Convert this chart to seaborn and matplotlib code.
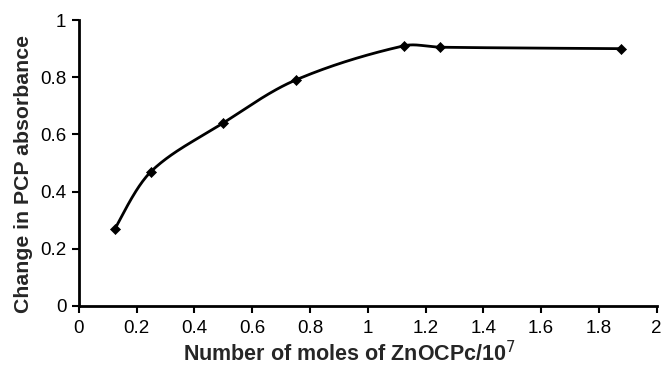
import numpy as np
import pandas as pd
import matplotlib
matplotlib.use("Agg")
import matplotlib.pyplot as plt
import seaborn as sns

# Measured points
moles = [0.125, 0.25, 0.5, 0.75, 1.125, 1.25, 1.875]
absorbance_change = [0.27, 0.47, 0.64, 0.79, 0.91, 0.905, 0.90]

x_ticks = [0, 0.2, 0.4, 0.6, 0.8, 1, 1.2, 1.4, 1.6, 1.8, 2]
x_tick_labels = ["0", "0.2", "0.4", "0.6", "0.8", "1", "1.2", "1.4", "1.6", "1.8", "2"]
y_ticks = [0, 0.2, 0.4, 0.6, 0.8, 1]
y_tick_labels = ["0", "0.2", "0.4", "0.6", "0.8", "1"]


def smooth_curve(xs, ys, n=40):
    """Cubic Bezier smoothing through every point, tangents weighted by chord length."""
    p = np.column_stack([xs, ys]).astype(float)
    m = len(p)
    d = np.linalg.norm(np.diff(p, axis=0), axis=1)
    t = np.linspace(0, 1, n)[:, None]
    out = []
    for i in range(m - 1):
        p0, p3 = p[i], p[i + 1]
        if i == 0:
            c1 = p0 + (p3 - p0) / 6.0
        else:
            c1 = p0 + (p[i + 1] - p[i - 1]) * d[i] / (d[i - 1] + d[i]) / 3.0
        if i == m - 2:
            c2 = p3 - (p3 - p0) / 6.0
        else:
            c2 = p3 - (p[i + 2] - p[i]) * d[i] / (d[i] + d[i + 1]) / 3.0
        seg = ((1 - t) ** 3) * p0 + 3 * ((1 - t) ** 2) * t * c1 \
            + 3 * (1 - t) * t ** 2 * c2 + t ** 3 * p3
        out.append(seg if i == 0 else seg[1:])
    return np.vstack(out)


sns.set_style("ticks")
plt.rcParams["font.family"] = ["Liberation Sans", "DejaVu Sans"]

fig = plt.figure(figsize=(6.62, 3.65), dpi=100)
ax = fig.add_axes([0.119, 0.162, 0.873, 0.783])

curve = smooth_curve(moles, absorbance_change)
curve_df = pd.DataFrame({"x": curve[:, 0], "y": curve[:, 1]})
points_df = pd.DataFrame({"x": moles, "y": absorbance_change})

sns.lineplot(data=curve_df, x="x", y="y", sort=False, color="black",
             linewidth=2.0, ax=ax)
sns.scatterplot(data=points_df, x="x", y="y", marker="D", s=26, color="black",
                edgecolor="black", linewidth=0.5, zorder=3, ax=ax)

ax.set_xlim(0, 2)
ax.set_ylim(0, 1)
ax.set_xticks(x_ticks)
ax.set_xticklabels(x_tick_labels)
ax.set_yticks(y_ticks)
ax.set_yticklabels(y_tick_labels)
ax.tick_params(axis="both", direction="out", length=5, width=1.5,
               labelsize=13.5, colors="black")
ax.tick_params(axis="x", pad=5)
ax.tick_params(axis="y", pad=4)

for side in ("top", "right"):
    ax.spines[side].set_visible(False)
for side in ("left", "bottom"):
    ax.spines[side].set_linewidth(2)
    ax.spines[side].set_color("black")

ax.set_xlabel("Number of moles of ZnOCPc/10$^{7}$", fontsize=15.5,
              fontweight="bold")
ax.xaxis.label.set_va("baseline")
ax.xaxis.set_label_coords(0.469, -0.193)

ax.set_ylabel("Change in PCP absorbance", fontsize=15.3, fontweight="bold")
ax.yaxis.label.set_va("center")
ax.yaxis.set_label_coords(-0.095, 0.462)

fig.savefig("out.png", dpi=100)
